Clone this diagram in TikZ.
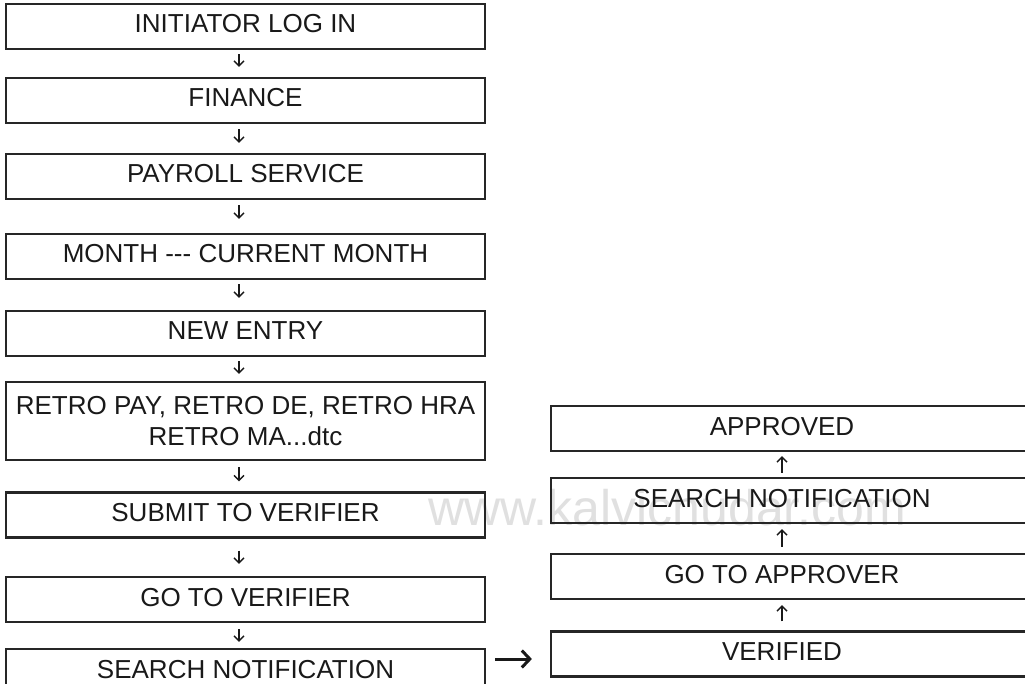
\documentclass[tikz,border=0pt]{standalone}
\usepackage{fontspec}
\setmainfont{Liberation Sans}
\usetikzlibrary{arrows.meta}
\begin{document}
\begin{tikzpicture}[x=1pt,y=-1pt,
  boxbase/.style={draw=black!85, line width=2.2pt, minimum width=479pt, inner sep=0pt,
    font=\fontsize{26}{31}\selectfont, text=black!90},
  box/.style={boxbase, minimum height=45pt, text height=19pt, text depth=6pt},
  rbox/.style={box, minimum width=489pt},
  tarr/.style={draw=black!90, line width=1.4pt, -{Straight Barb[length=5pt,width=10pt]}},
  harr/.style={draw=black!90, line width=3pt, -{Straight Barb[length=8pt,width=17pt]}},
  wm/.style={text=black!12, font=\fontsize{50}{60}\selectfont, inner sep=0pt}
]
\clip (0,0) rectangle (1025,684);
\fill[white] (0,0) rectangle (1025,684);

% watermark
\node[wm, anchor=base west] (wmark) at (428,525) {www.kalvichudar.com};

% left column
\node[box] (b1) at (245.5,26.5) {INITIATOR LOG IN};
\node[box] (b2) at (245.5,100.5) {FINANCE};
\node[box] (b3) at (245.5,176.5) {PAYROLL SERVICE};
\node[box] (b4) at (245.5,256.5) {MONTH -{}-{}- CURRENT MONTH};
\node[box] (b5) at (245.5,333.5) {NEW ENTRY};
\node[boxbase, minimum height=78pt, align=center] (b6) at (245.5,421) {RETRO PAY, RETRO DE, RETRO HRA\\RETRO MA...dtc};
\node[box] (b7) at (245.5,515) {SUBMIT TO VERIFIER};
\node[box] (b8) at (245.5,599.5) {GO TO VERIFIER};
\node[box] (b9) at (245.5,671.5) {SEARCH NOTIFICATION};

\foreach \a/\b/\s/\e in {b1/b2/4/10,b2/b3/5/10,b3/b4/5/14,b4/b5/4/12,b5/b6/4/7,b6/b7/6/10,b7/b8/12/12,b8/b9/6/6}
  \draw[tarr, shorten <=\s pt, shorten >=\e pt] ([xshift=-6.5pt]\a.south) -- ([xshift=-6.5pt]\b.north);

% right column
\node[rbox] (r1) at (795.5,428.5) {\hspace*{-27pt}APPROVED};
\node[rbox] (r2) at (795.5,500.5) {\hspace*{-27pt}SEARCH NOTIFICATION};
\node[rbox] (r3) at (795.5,576.5) {\hspace*{-27pt}GO TO APPROVER};
\node[rbox] (r4) at (795.5,654) {\hspace*{-27pt}VERIFIED};

\foreach \a/\b/\s/\e in {r4/r3/9/5,r3/r2/6/5,r2/r1/4/4}
  \draw[tarr, shorten <=\s pt, shorten >=\e pt] ([xshift=-13.5pt]\a.north) -- ([xshift=-13.5pt]\b.south);

% link
\draw[harr] ([shift={(9,-12.5)}]b9.east) -- ([shift={(-18,5)}]r4.west);
\end{tikzpicture}
\end{document}
